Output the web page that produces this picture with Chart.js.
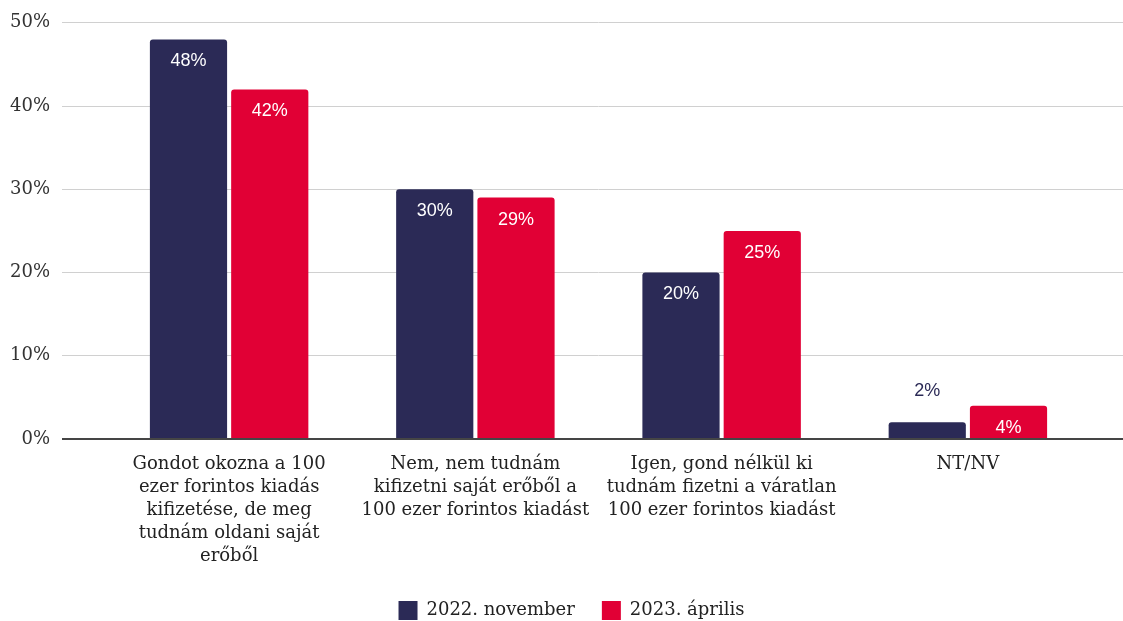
<!DOCTYPE html>
<html lang="hu">
<head>
<meta charset="UTF-8">
<title>100 ezer forintos váratlan kiadás</title>
<script src="https://cdn.jsdelivr.net/npm/chart.js"></script>
<style>
  html, body { margin: 0; padding: 0; background: #fff; }
  #wrap { width: 1123px; height: 621px; }
</style>
</head>
<body>
<div id="wrap"><canvas id="grafikon"></canvas></div>
<script>
const kategoriak = [
  ['Gondot okozna a 100', 'ezer forintos kiadás', 'kifizetése, de meg', 'tudnám oldani saját', 'erőből'],
  ['Nem, nem tudnám', 'kifizetni saját erőből a', '100 ezer forintos kiadást'],
  ['Igen, gond nélkül ki', 'tudnám fizetni a váratlan', '100 ezer forintos kiadást'],
  ['NT/NV']
];
const nov2022 = [48, 30, 20, 2];
const apr2023 = [42, 29, 25, 4];
const yTicks = [0, 10, 20, 30, 40, 50];

const NAVY = '#2b2a56';
const RED = '#e10035';
const serif = "'DejaVu Serif', 'Liberation Serif', serif";

function igazit(px, w) {
  return Math.round(px - w / 2) + w / 2;
}

// rácsvonalak meghosszabbítása jobbra + jelmagyarázat kicsit jobbra tolva
const racsKiterjesztes = {
  id: 'racsKiterjesztes',
  afterLayout(chart) {
    if (chart.legend) chart.legend.left += 20;
  },
  beforeDatasetsDraw(chart) {
    const { ctx, chartArea, scales } = chart;
    ctx.save();
    scales.y.ticks.forEach(t => {
      const w = t.value === 0 ? 2 : 1;
      const y = igazit(scales.y.getPixelForValue(t.value), w);
      ctx.beginPath();
      ctx.lineWidth = w;
      ctx.strokeStyle = t.value === 0 ? '#454545' : '#d0d0d0';
      ctx.moveTo(chartArea.right, y);
      ctx.lineTo(chart.width, y);
      ctx.stroke();
    });
    ctx.restore();
  }
};

// értékcímkék az oszlopokon
const ertekCimkek = {
  id: 'ertekCimkek',
  afterDatasetsDraw(chart) {
    const { ctx } = chart;
    ctx.save();
    ctx.font = "18px 'Liberation Sans', Arial, sans-serif";
    ctx.textAlign = 'center';
    ctx.textBaseline = 'middle';
    chart.data.datasets.forEach((ds, i) => {
      chart.getDatasetMeta(i).data.forEach((bar, j) => {
        const v = ds.data[j];
        const h = bar.base - bar.y;
        if (h > 30) {
          ctx.fillStyle = '#ffffff';
          ctx.fillText(v + '%', bar.x, bar.y + 22);
        } else {
          ctx.fillStyle = ds.backgroundColor;
          ctx.fillText(v + '%', bar.x, bar.y - 31);
        }
      });
    });
    ctx.restore();
  }
};

new Chart(document.getElementById('grafikon'), {
  type: 'bar',
  data: {
    labels: kategoriak,
    datasets: [
      { label: '2022. november', data: nov2022, backgroundColor: NAVY },
      { label: '2023. április', data: apr2023, backgroundColor: RED }
    ]
  },
  options: {
    responsive: true,
    maintainAspectRatio: false,
    animation: false,
    layout: { padding: { top: 7, right: 0, bottom: -9, left: 0 } },
    datasets: {
      bar: {
        categoryPercentage: 0.66,
        barPercentage: 0.95,
        borderRadius: { topLeft: 3, topRight: 3 },
        borderSkipped: 'bottom'
      }
    },
    plugins: {
      legend: {
        position: 'bottom',
        labels: {
          boxWidth: 19,
          boxHeight: 19,
          padding: 27,
          color: '#222',
          font: { family: serif, size: 18 }
        }
      },
      tooltip: { enabled: false }
    },
    scales: {
      x: {
        grid: { display: false },
        border: { display: false },
        ticks: {
          color: '#222',
          padding: 6,
          maxRotation: 0,
          autoSkip: false,
          font: { family: serif, size: 18, lineHeight: '23px' }
        }
      },
      y: {
        min: 0,
        max: 50,
        afterBuildTicks(scale) {
          scale.ticks = yTicks.map(v => ({ value: v }));
        },
        afterFit(scale) { scale.width = 106; },
        border: { display: false },
        grid: {
          drawTicks: true,
          tickLength: 44,
          color: c => c.tick && c.tick.value === 0 ? '#454545' : '#d0d0d0',
          lineWidth: c => c.tick && c.tick.value === 0 ? 2 : 1
        },
        ticks: {
          padding: 12,
          color: '#333',
          font: { family: serif, size: 18 },
          callback: v => v + '%'
        }
      },
      // jobb oldali üres sáv, ide futnak ki a rácsvonalak
      y2: {
        position: 'right',
        display: true,
        min: 0,
        max: 50,
        grid: { display: false },
        border: { display: false },
        ticks: { display: false },
        afterFit(scale) { scale.width = 32; }
      }
    }
  },
  plugins: [racsKiterjesztes, ertekCimkek]
});
</script>
</body>
</html>
